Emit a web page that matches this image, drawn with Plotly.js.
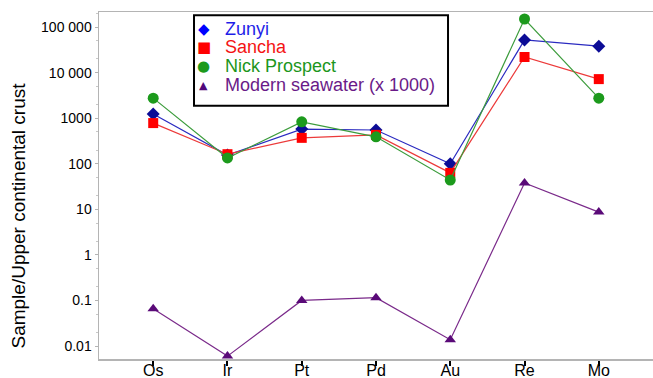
<!DOCTYPE html>
<html>
<head>
<meta charset="utf-8">
<script src="https://cdn.plot.ly/plotly-3.0.1.min.js"></script>
<style>html,body{margin:0;padding:0;background:#fff;}#chart{width:653px;height:378px;}</style>
</head>
<body>
<div id="chart"></div>
<script>
const elements = ["Os", "Ir", "Pt", "Pd", "Au", "Re", "Mo"];
const zunyi = [1230, 155, 575, 550, 100, 52000, 38000];
const sancha = [780, 162, 370, 430, 63, 22000, 7200];
const nickProspect = [2750, 134, 830, 390, 44, 150000, 2750];
const seawater = [0.066, 0.006, 0.1, 0.115, 0.0137, 38, 8.7];
const seriesNames = ["Zunyi", "Sancha", "Nick Prospect", "Modern seawater (x 1000)"];
const yTickVals = [0.01, 0.1, 1, 10, 100, 1000, 10000, 100000];
const yTickText = ["0.01", "0.1", "1", "10", "100", "1000", "10 000", "100 000"];
const yTitle = "Sample/Upper continental crust";

const styles = [
  {symbol: "diamond", mcolor: "#0c0c96", lcolor: "#2a2ac0", glyph: "\u25C6", gcolor: "#0000ff", gsize: 15, tcolor: "#1e1ee8", size: 10},
  {symbol: "square", mcolor: "#ff0000", lcolor: "#ec3a3a", glyph: "\u25A0", gcolor: "#ff0000", gsize: 15, tcolor: "#f41414", size: 10},
  {symbol: "circle", mcolor: "#1c9a1c", lcolor: "#3c9c3c", glyph: "\u25CF", gcolor: "#1c9a1c", gsize: 15, tcolor: "#1c961c", size: 11},
  {symbol: "triangle-up", mcolor: "#5a0a78", lcolor: "#7a2a8a", glyph: "\u25B2", gcolor: "#50087a", gsize: 11, tcolor: "#6a1a88", size: 10}
];
const seriesValues = [zunyi, sancha, nickProspect, seawater];

const traces = seriesValues.map((vals, i) => ({
  x: elements, y: vals, type: "scatter", mode: "lines+markers",
  name: seriesNames[i],
  line: {color: styles[i].lcolor, width: 1.2},
  marker: {symbol: styles[i].symbol, color: styles[i].mcolor, size: styles[i].size},
  showlegend: false, cliponaxis: false
}));

// custom legend (box + rows)
const rowY = [0.9519, 0.8983, 0.8435, 0.7888];
const annotations = [];
seriesNames.forEach((n, i) => {
  annotations.push({
    xref: "paper", yref: "paper", x: 0.1895, y: rowY[i], xanchor: "center", yanchor: "middle",
    text: styles[i].glyph, showarrow: false,
    font: {family: "DejaVu Sans, sans-serif", size: styles[i].gsize, color: styles[i].gcolor}
  });
  annotations.push({
    xref: "paper", yref: "paper", x: 0.2238, y: rowY[i], xanchor: "left", yanchor: "middle",
    text: n, showarrow: false,
    font: {size: 18, color: styles[i].tcolor}
  });
});
annotations.push({
  xref: "paper", yref: "paper", x: -0.1453, y: 0.412, xanchor: "center", yanchor: "middle",
  text: yTitle, textangle: -90, showarrow: false,
  font: {size: 19, color: "#000"}
});

const layout = {
  width: 653, height: 378,
  margin: {l: 99, r: 0, t: 12, b: 19},
  paper_bgcolor: "#ffffff", plot_bgcolor: "#ffffff",
  font: {family: "Liberation Sans, Arial, sans-serif", size: 14, color: "#000"},
  showlegend: false,
  shapes: [{
    type: "rect", xref: "paper", yref: "paper",
    x0: 0.1715, x1: 0.630, y0: 0.730, y1: 0.9905,
    line: {color: "#000", width: 2}, fillcolor: "#ffffff", layer: "above"
  }],
  annotations: annotations,
  xaxis: {
    type: "category", range: [-0.73, 6.73],
    showline: true, linecolor: "#b4b4b4", linewidth: 1.5, mirror: true,
    ticks: "outside", ticklen: 5, tickcolor: "#000", tickwidth: 2,
    ticklabelstandoff: -9,
    showgrid: false, zeroline: false,
    tickfont: {size: 16}
  },
  yaxis: {
    type: "log", range: [-2.285, 5.33],
    tickvals: yTickVals, ticktext: yTickText,
    showline: true, linecolor: "#b4b4b4", linewidth: 1.5,
    ticks: "outside", ticklen: 3, tickcolor: "#b4b4b4",
    minor: {ticks: "outside", ticklen: 2, tickcolor: "#c8c8c8", showgrid: false},
    showgrid: false, zeroline: false,
    tickfont: {size: 14}
  }
};

Plotly.newPlot("chart", traces, layout, {displayModeBar: false, staticPlot: true});
</script>
</body>
</html>
